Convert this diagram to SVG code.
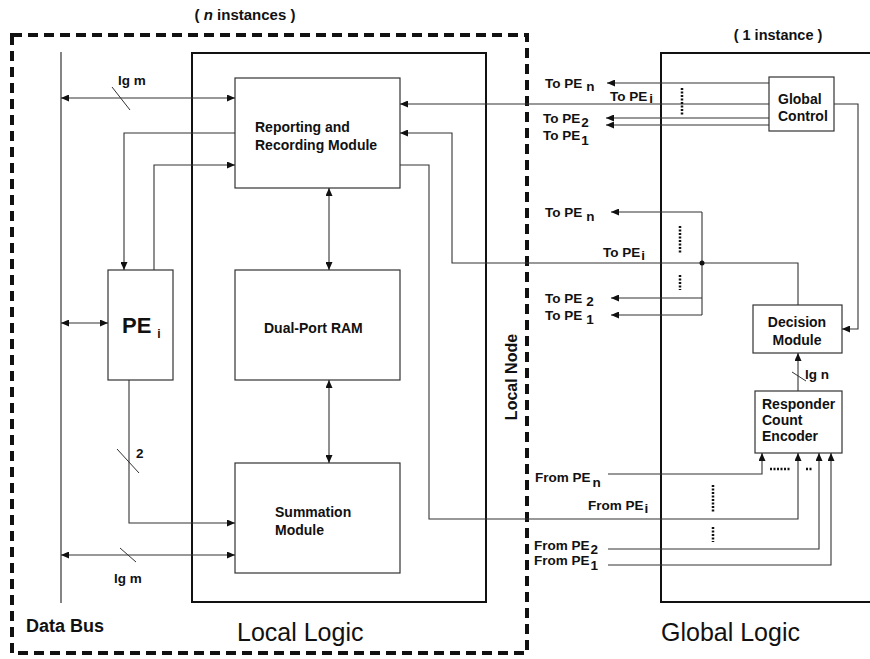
<svg xmlns="http://www.w3.org/2000/svg" width="870" height="659" viewBox="0 0 870 659">
<style>
text{font-family:"Liberation Sans",Arial,sans-serif;fill:#111}
.b{font-weight:bold}
.lbl{font-size:13.5px;font-weight:bold}
.mod{font-size:14px;font-weight:bold}
.box{fill:#fff;stroke:#333;stroke-width:1.2}
.c{fill:none;stroke:#333;stroke-width:1.1}
.ar{marker-end:url(#ah)}
.dbl{marker-end:url(#ah);marker-start:url(#ah)}
.dots{fill:none;stroke:#111;stroke-width:2.5;stroke-dasharray:2 1.5}
.sl{stroke:#333;stroke-width:1}
</style>
<defs>
<marker id="ah" markerUnits="userSpaceOnUse" markerWidth="8" markerHeight="7" refX="8" refY="3.5" orient="auto-start-reverse">
<path d="M0,0 L8,3.5 L0,7 z" fill="#111"/>
</marker>
</defs>
<rect width="870" height="659" fill="#fff"/>

<g id="local-logic-frame">
<rect x="12" y="35" width="515" height="618" fill="none" stroke="#111" stroke-width="4" stroke-dasharray="10 6"/>
<text x="245" y="20" font-size="15" class="b" text-anchor="middle">( <tspan font-style="italic">n</tspan> instances )</text>
<text x="26" y="632" font-size="18" class="b">Data Bus</text>
<text x="237" y="641" font-size="25">Local Logic</text>
</g>

<g id="local-node">
<rect x="192" y="53" width="294" height="549" fill="none" stroke="#111" stroke-width="2"/>
<text x="517" y="377" font-size="16" class="b" text-anchor="middle" transform="rotate(-90 517 377)">Local Node</text>
</g>

<g id="global-logic">
<path d="M875,53 H661 V602 H875" fill="none" stroke="#111" stroke-width="2"/>
<text x="778" y="40" font-size="14.5" class="b" text-anchor="middle">( 1 instance )</text>
<text x="661" y="641" font-size="25">Global Logic</text>
</g>

<g id="data-bus">
<line x1="61" y1="52" x2="61" y2="603" stroke="#333" stroke-width="1.2"/>
</g>

<g id="reporting">
<rect class="box" x="235" y="78" width="165" height="110"/>
<text class="mod" x="255" y="132">Reporting and</text>
<text class="mod" x="255" y="150">Recording Module</text>
</g>

<g id="ram">
<rect class="box" x="235" y="270" width="165" height="110"/>
<text class="mod" x="264" y="333">Dual-Port RAM</text>
</g>

<g id="summation">
<rect class="box" x="235" y="463" width="165" height="110"/>
<text class="mod" x="275" y="517">Summation</text>
<text class="mod" x="275" y="535">Module</text>
</g>

<g id="pe">
<rect class="box" x="108" y="270" width="65" height="110"/>
<text x="122" y="333" font-size="22" class="b">PE<tspan font-size="12" dx="6" dy="5">i</tspan></text>
</g>

<g id="global-control">
<rect class="box" x="769" y="77" width="65" height="54"/>
<text class="mod" x="778" y="104">Global</text>
<text class="mod" x="778" y="121">Control</text>
</g>

<g id="decision">
<rect class="box" x="753" y="305" width="89" height="48"/>
<text class="mod" x="797" y="327" text-anchor="middle">Decision</text>
<text class="mod" x="797" y="345" text-anchor="middle">Module</text>
</g>

<g id="encoder">
<rect class="box" x="755" y="391" width="87" height="62"/>
<text class="mod" x="762" y="409">Responder</text>
<text class="mod" x="762" y="425">Count</text>
<text class="mod" x="762" y="441">Encoder</text>
</g>

<g id="connectors">
<path class="c dbl" d="M61,98 H235"/>
<path class="c ar" d="M235,133 H124 V270"/>
<path class="c ar" d="M154,270 V165 H235"/>
<path class="c dbl" d="M329,188 V270"/>
<path class="c dbl" d="M329,380 V463"/>
<path class="c dbl" d="M61,323 H108"/>
<path class="c ar" d="M129,380 V523 H235"/>
<path class="c dbl" d="M61,555 H235"/>
<path class="c ar" d="M769,104 H400"/>
<path class="c ar" d="M798,305 V263 H452 V133 H400"/>
<path class="c" d="M702,212 V315"/>
<path class="c ar" d="M702,212 H611"/>
<path class="c ar" d="M702,298 H611"/>
<path class="c ar" d="M702,315 H611"/>
<circle cx="702" cy="263" r="2.5" fill="#111"/>
<path class="c ar" d="M769,83 H607"/>
<path class="c ar" d="M769,118 H606"/>
<path class="c ar" d="M769,125 H606"/>
<path class="c ar" d="M834,104 H858 V329 H842"/>
<path class="c ar" d="M400,165 H429 V519 H798 V453"/>
<path class="c ar" d="M608,474 H762 V453"/>
<path class="c ar" d="M608,549 H819 V453"/>
<path class="c ar" d="M608,565 H831 V453"/>
<path class="c ar" d="M798,391 V353"/>
<line class="sl" x1="112" y1="87" x2="130" y2="110"/>
<line class="sl" x1="117" y1="449" x2="139" y2="473"/>
<line class="sl" x1="120" y1="548" x2="136" y2="562"/>
<line class="sl" x1="792" y1="372" x2="806" y2="381"/>
<path class="dots" d="M682,88 V116 M680,226 V253 M680,275 V290 M713,485 V512 M713,527 V542 M770,469 H790 M806,469 H812"/>
<text class="lbl" x="118" y="85">lg m</text>
<text class="lbl" x="114" y="583">lg m</text>
<text class="lbl" x="136" y="458">2</text>
<text class="lbl" x="805" y="379">lg n</text>
<text class="lbl" x="545" y="88">To PE<tspan dx="4" dy="3">n</tspan></text>
<text class="lbl" x="610" y="101">To PE<tspan dx="2" dy="2">i</tspan></text>
<text class="lbl" x="543" y="123">To PE<tspan dx="1" dy="4">2</tspan></text>
<text class="lbl" x="543" y="140">To PE<tspan dx="1" dy="5">1</tspan></text>
<text class="lbl" x="545" y="217">To PE<tspan dx="4" dy="4">n</tspan></text>
<text class="lbl" x="603" y="257">To PE<tspan dx="1" dy="3">i</tspan></text>
<text class="lbl" x="545" y="303">To PE<tspan dx="4" dy="3">2</tspan></text>
<text class="lbl" x="545" y="320">To PE<tspan dx="4" dy="4">1</tspan></text>
<text class="lbl" x="535" y="482">From PE<tspan dx="2" dy="5">n</tspan></text>
<text class="lbl" x="588" y="510">From PE<tspan dx="1" dy="3">i</tspan></text>
<text class="lbl" x="534" y="550">From PE<tspan dx="1" dy="4">2</tspan></text>
<text class="lbl" x="534" y="565">From PE<tspan dx="1" dy="5">1</tspan></text>
</g>
</svg>
